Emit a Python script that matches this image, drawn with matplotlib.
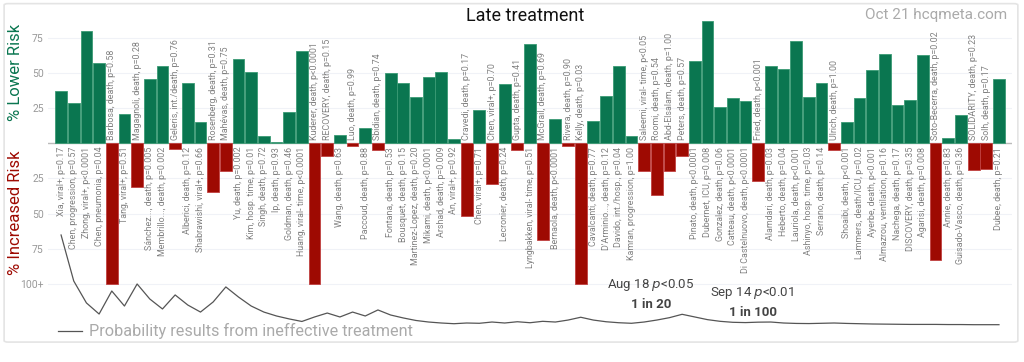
import numpy as np
import matplotlib.pyplot as plt
from matplotlib.patches import FancyBboxPatch

plt.rcParams['font.family'] = ['Roboto', 'DejaVu Sans']

# study labels, in order
labels = [
    "Xia, viral+, p=0.17", "Chen, progression, p=0.57", "Zhong, viral+, p<0.0001",
    "Chen, pneumonia, p=0.04", "Barbosa, death, p=0.58", "Tang, viral+, p=0.51",
    "Magagnoli, death, p=0.28", "Sánchez..., death, p=0.005", "Membrillo..., death, p=0.002",
    "Geleris, int./death, p=0.76", "Alberici, death, p=0.12", "Shabrawishi, viral+, p=0.66",
    "Rosenberg, death, p=0.31", "Mahévas, death, p=0.75", "Yu, death, p=0.002",
    "Kim, hosp. time, p=0.01", "Singh, death, p=0.72", "Ip, death, p=0.93",
    "Goldman, death, p=0.46", "Huang, viral- time, p<0.0001", "Kuderer, death, p<0.0001",
    "RECOVERY, death, p=0.15", "Wang, death, p=0.63", "Luo, death, p=0.99",
    "Paccoud, death, p=0.88", "Sbidian, death, p=0.74", "Fontana, death, p=0.53",
    "Bousquet, death, p=0.15", "Martinez-Lopez, death, p=0.20", "Mikami, death, p<0.0001",
    "Arshad, death, p=0.009", "An, viral+, p=0.92", "Cravedi, death, p=0.17",
    "Chen, viral+, p=0.71", "Chen, viral+, p=0.70", "Lecronier, death, p=0.24",
    "Gupta, death, p=0.41", "Lyngbakken, viral- time, p=0.51", "McGrail, death, p=0.69",
    "Bernaola, death, p<0.0001", "Rivera, death, p=0.90", "Kelly, death, p=0.03",
    "Cavalcanti, death, p=0.77", "D'Arminio..., death, p=0.12", "Davido, int./hosp., p=0.04",
    "Kamran, progression, p=1.00", "Saleemi, viral- time, p<0.05", "Roomi, death, p=0.54",
    "Abd-Elsalam, death, p=1.00", "Peters, death, p=0.57", "Pinato, death, p<0.0001",
    "Dubernet, ICU, p=0.008", "Gonzalez, death, p=0.06", "Catteau, death, p<0.0001",
    "Di Castelnuovo, death, p<0.0001", "Fried, death, p<0.001", "Alamdari, death, p=0.03",
    "Heberto, death, p=0.04", "Lauriola, death, p<0.001", "Ashinyo, hosp. time, p=0.03",
    "Serrano, death, p=0.14", "Ulrich, death, p=1.00", "Shoaibi, death, p<0.001",
    "Lammers, death/ICU, p=0.02", "Ayerbe, death, p<0.001", "Almazrou, ventilation, p=0.16",
    "Nachega, death, p=0.17", "DISCOVERY, death, p=0.35", "Agarisi, death, p=0.008",
    "Soto-Becerra, death, p=0.02", "Annie, death, p=0.83", "Guisado-Vasco, death, p=0.36",
    "SOLIDARITY, death, p=0.23", "Solh, death, p=0.17", "Dubee, death, p=0.21",
]

# % lower risk (negative = increased risk, capped at 100)
values = [
    37, 29, 80, 57, -100, 21, -31, 46, 55, -4, 43, 15,
    -35, -20, 60, 51, 5, 1, 22, 66, -100, -9, 6, -2, 11,
    -5, 50, 43, 33, 47, 51, 3, -52, 24, -29, 42, -5, 71,
    -69, 17, -2, -100, 16, 34, 55, 5, -20, -37, -20, -9,
    59, 87, 26, 32, 30, -27, 55, 53, 73, 33, 43, -5, 15,
    32, 52, 64, 27, 31, 63, -83, 4, 20, -19, -18, 46,
]

# probability curve (plotted on the same axis, below the bars)
prob_curve = [
    -65.3, -98.1, -113.7, -121.6, -105.2, -115.9, -100.2, -110.9, -118.0, -108.0,
    -115.2, -120.2, -113.0, -102.3, -109.5, -115.9, -120.2, -123.0, -125.1, -126.9,
    -123.7, -120.9, -123.7, -120.2, -123.0, -118.7, -122.3, -124.4, -126.2, -127.3,
    -128.0, -128.5, -128.0, -128.2, -127.3, -128.0, -127.1, -127.8, -126.8, -127.3,
    -125.9, -123.9, -125.9, -127.1, -127.8, -128.2, -127.3, -125.9, -124.2, -121.8,
    -123.7, -125.6, -126.8, -127.5, -127.7, -127.4, -127.3, -128.0, -128.3, -128.4,
    -128.2, -128.0, -128.3, -128.5, -128.7, -128.8, -128.9, -129.0, -129.0, -129.0,
    -129.1, -129.1, -129.2, -129.2, -129.2,
]

green = '#0a7650'
red = '#9e0a02'

fig = plt.figure(figsize=(10.24, 3.62), dpi=100)

# card frame behind everything
card = FancyBboxPatch((0.004, 0.055), 0.99, 0.935, boxstyle='round,pad=0,rounding_size=0.004',
                      transform=fig.transFigure, facecolor='white', edgecolor='#e4e4e4',
                      lw=1.2, zorder=-10)
fig.patches.append(card)

ax = fig.add_axes([0.0469, 0.0608, 0.9414, 0.917])
ax.set_facecolor('none')

x = np.arange(len(values))
vals = np.array(values)
colors = [green if v > 0 else red for v in vals]
edges = ['#3a9a74' if v > 0 else '#c04040' for v in vals]
ax.bar(x, vals, width=0.93, color=colors, edgecolor=edges, linewidth=0.6, zorder=3)

for xi, v, lab in zip(x, vals, labels):
    if v > 0:
        ax.text(xi, -2.5, lab, rotation=90, ha='center', va='top', fontsize=6.4,
                color='#808080', zorder=4)
    else:
        ax.text(xi, 2.5, lab, rotation=90, ha='center', va='bottom', fontsize=6.4,
                color='#808080', zorder=4)

ax.plot(x, prob_curve, color='#555555', lw=0.9, zorder=3)

ax.set_xlim(-1.03, 75.03)
ax.set_ylim(-140.1, 96.4)

yt = [75, 50, 25, -25, -50, -75, -100]
ax.set_yticks(yt)
ax.set_yticklabels(['75', '50', '25', '25', '50', '75', '100+'])
for t in yt:
    ax.axhline(t, color='#f0f2f7', lw=0.8, zorder=1)
ax.axhline(0, color='#bbbbbb', lw=1.0, zorder=2)
ax.tick_params(axis='y', length=0, labelsize=7.5, labelcolor='#999999', pad=3)
ax.set_xticks([])
for s in ax.spines.values():
    s.set_visible(False)

# axis labels
fig.text(0.015, 1 - 72 / 362, '% Lower Risk', rotation=90, ha='center', va='center',
         fontsize=12, color=green)
fig.text(0.015, 1 - 213 / 362, '% Increased Risk', rotation=90, ha='center', va='center',
         fontsize=12, color=red)

fig.text(0.513, 1 - 16 / 362, 'Late treatment', ha='center', va='center', fontsize=13,
         color='#111111')
fig.text(0.984, 1 - 15 / 362, 'Oct 21 hcqmeta.com', ha='right', va='center', fontsize=11,
         color='#aaaaaa')

# significance annotations
fig.text(651 / 1024, 1 - 285 / 362, 'Aug 18 $p$<0.05', ha='center', va='center', fontsize=9.5,
         color='#444444', zorder=10)
fig.text(651 / 1024, 1 - 304 / 362, '1 in 20', ha='center', va='center', fontsize=9.5,
         color='#444444', fontweight='bold', zorder=10)
fig.text(752 / 1024, 1 - 293 / 362, 'Sep 14 $p$<0.01', ha='center', va='center', fontsize=9.5,
         color='#444444', zorder=10)
fig.text(753 / 1024, 1 - 312 / 362, '1 in 100', ha='center', va='center', fontsize=9.5,
         color='#444444', fontweight='bold', zorder=10)

# legend
fig.lines.append(plt.Line2D([58 / 1024, 82 / 1024], [1 - 331 / 362, 1 - 331 / 362],
                            transform=fig.transFigure, color='#555555', lw=0.9))
fig.text(89 / 1024, 1 - 331 / 362, 'Probability results from ineffective treatment',
         ha='left', va='center', fontsize=11.7, color='#aaaaaa')

fig.savefig('out.png', dpi=100)
